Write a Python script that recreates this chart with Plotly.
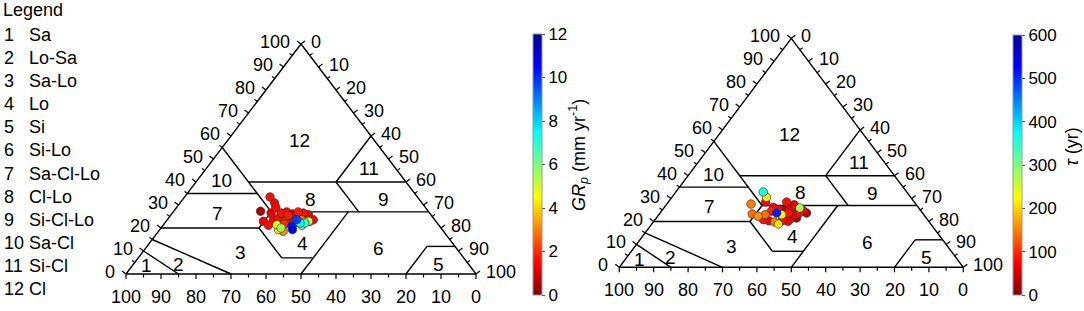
import math
import plotly.graph_objects as go

W, H = 1084, 311
FONT = "Liberation Sans, Arial, sans-serif"

# ---------------- data ----------------
legend_ids = ["1", "2", "3", "4", "5", "6", "7", "8", "9", "10", "11", "12"]
legend_names = ["Sa", "Lo-Sa", "Sa-Lo", "Lo", "Si", "Si-Lo", "Sa-Cl-Lo",
                "Cl-Lo", "Si-Cl-Lo", "Sa-Cl", "Si-Cl", "Cl"]

# class boundary segments as (clay %, silt %) pairs
boundaries = [
    [(10, 0), (0, 15)],
    [(15, 0), (0, 30)],
    [(20, 0), (20, 28)],
    [(20, 28), (7, 41)],
    [(7, 41), (7, 50)],
    [(0, 50), (27, 50)],
    [(20, 28), (27, 28)],
    [(27, 28), (55, 0)],
    [(27, 28), (27, 73)],
    [(35, 0), (35, 20)],
    [(40, 15), (40, 60)],
    [(27, 53), (40, 40)],
    [(40, 40), (60, 40)],
    [(0, 80), (12, 80)],
    [(12, 80), (12, 88)],
]

# class label positions (clay %, silt %)
label_clay = [3.5, 4.2, 9.3, 13.3, 4.2, 11.0, 26.4, 32.6, 32.2, 40.6, 45.9, 58.0]
label_silt = [4.2, 12.9, 28.0, 43.8, 87.1, 66.6, 12.9, 36.3, 57.6, 7.0, 46.6, 20.5]

tick_values = list(range(0, 101, 10))
minor_values = list(range(5, 100, 10))

# left panel samples: clay %, silt %, GRp (mm/yr)
left_clay = [33.5, 30.9, 27.3, 29.0, 26.5, 26.5, 27.0, 26.1, 27.0, 26.5, 25.8, 23.6, 22.9,
             22.9, 21.2, 21.4, 20.0, 18.6, 19.3, 20.7, 19.3, 23.6, 23.6, 22.9, 22.2, 22.2,
             22.9, 23.6, 22.9, 23.6, 22.2, 21.7, 24.7, 24.7, 24.3, 25.5, 21.2, 23.6]
left_silt = [24.4, 27.0, 24.8, 28.3, 28.2, 31.2, 32.4, 34.5, 35.7, 37.4, 39.2, 41.7, 41.1,
             27.8, 30.1, 32.4, 34.3, 35.6, 33.9, 37.0, 37.9, 37.0, 34.6, 34.0, 38.6, 40.0,
             40.7, 38.4, 35.4, 32.7, 37.2, 34.4, 38.8, 36.7, 31.4, 33.6, 39.6, 30.3]
left_grp = [1.6, 1.4, 0.4, 1.5, 1.3, 1.7, 1.5, 1.2, 1.8, 1.6, 1.4, 1.5, 1.9,
            1.3, 1.6, 4.6, 5.4, 3.2, 4.3, 10.3, 10.8, 9.8, 1.5, 1.8, 7.4, 7.0,
            4.8, 2.8, 0.6, 1.4, 1.7, 2.0, 1.5, 1.3, 1.6, 1.8, 6.2, 1.5]

# right panel samples: clay %, silt %, tau (yr)
right_clay = [32.9, 30.6, 27.6, 28.5, 28.5, 27.3, 26.2, 25.9, 24.7, 23.7, 23.0, 23.3, 22.3,
              20.8, 20.3, 19.8, 18.9, 21.5, 23.7, 21.5, 21.5, 23.7, 25.2, 25.2, 25.2, 24.5,
              20.1, 20.3, 26.6, 23.7, 23.0, 23.0]
right_silt = [25.4, 27.5, 24.5, 28.3, 34.4, 37.2, 31.7, 39.5, 41.1, 33.9, 35.7, 27.0, 29.2,
              31.5, 33.3, 35.2, 36.8, 36.9, 37.3, 39.4, 40.8, 40.4, 38.0, 35.6, 33.6, 32.0,
              39.0, 37.2, 36.3, 42.6, 30.9, 39.6]
right_tau = [360, 215, 150, 70, 80, 60, 75, 280, 70, 510, 220, 140, 160,
             80, 65, 150, 210, 75, 85, 70, 25, 80, 70, 30, 75, 90,
             70, 80, 65, 30, 140, 75]

gr_ticks = [0, 2, 4, 6, 8, 10, 12]
tau_ticks = [0, 100, 200, 300, 400, 500, 600]

JET_R = [[0.0, "rgb(128,0,0)"], [0.125, "rgb(255,0,0)"], [0.375, "rgb(255,255,0)"],
         [0.625, "rgb(0,255,255)"], [0.875, "rgb(0,0,255)"], [1.0, "rgb(0,0,140)"]]


def tx(clay, silt):
    return silt + clay / 2.0


fig = go.Figure()
annotations = []

panels = [
    dict(xa="x", ya="y", xdom=(0.0, 0.5), ox=126.0, oy=274.0, sx=3.5, sy=2.3,
         clay=left_clay, silt=left_silt, val=left_grp, cmax=12, ticks=gr_ticks,
         cbx=532.7, cby=164.5, cblen=261,
         title="<i>GR</i><sub><i>p</i></sub> (mm yr<sup>-1</sup>)", tpos=(578, 155)),
    dict(xa="x2", ya="y2", xdom=(0.5, 1.0), ox=619.3, oy=267.3, sx=3.44, sy=2.29,
         clay=right_clay, silt=right_silt, val=right_tau, cmax=600, ticks=tau_ticks,
         cbx=1013.3, cby=165.0, cblen=260,
         title="<i>τ</i> (yr)", tpos=(1072, 147)),
]

layout_axes = {}
for i, p in enumerate(panels):
    xa, ya, sx, sy = p["xa"], p["ya"], p["sx"], p["sy"]
    line = dict(color="black", width=1.4)

    # outline and class boundaries
    xs, ys = [], []
    for c, s in [(0, 0), (0, 100), (100, 0), (0, 0)]:
        xs.append(tx(c, s)); ys.append(c)
    xs.append(None); ys.append(None)
    for (c1, s1), (c2, s2) in boundaries:
        xs += [tx(c1, s1), tx(c2, s2), None]
        ys += [c1, c2, None]
    fig.add_trace(go.Scatter(x=xs, y=ys, mode="lines", line=line, xaxis=xa, yaxis=ya,
                             hoverinfo="skip", showlegend=False))

    # ticks (perpendicular outward, in pixel space)
    nrm = math.hypot(100 * sy, 50 * sx)
    nl = (-100 * sy / nrm, -50 * sx / nrm)
    nr = (100 * sy / nrm, -50 * sx / nrm)
    txs, tys = [], []
    for v in tick_values + minor_values:
        L = 5.0 if v % 10 == 0 else 3.5
        bx, by = tx(v, 0), v
        txs += [bx, bx + nl[0] * L / sx, None]; tys += [by, by - nl[1] * L / sy, None]
        bx, by = tx(100 - v, v), 100 - v
        txs += [bx, bx + nr[0] * L / sx, None]; tys += [by, by - nr[1] * L / sy, None]
        bx, by = 100 - v, 0
        txs += [bx, bx, None]; tys += [by, by - L / sy, None]
    fig.add_trace(go.Scatter(x=txs, y=tys, mode="lines", line=dict(color="black", width=1.2),
                             xaxis=xa, yaxis=ya, hoverinfo="skip", showlegend=False))

    # tick labels
    tf = dict(family=FONT, size=18, color="black")
    for v in tick_values:
        annotations.append(dict(x=tx(v, 0), y=v, xref=xa, yref=ya, text=str(v),
                                showarrow=False, xanchor="right", yanchor="middle",
                                xshift=-9, yshift=2, font=tf))
        annotations.append(dict(x=tx(100 - v, v), y=100 - v, xref=xa, yref=ya, text=str(v),
                                showarrow=False, xanchor="left", yanchor="middle",
                                xshift=8, yshift=2, font=tf))
        annotations.append(dict(x=100 - v, y=0, xref=xa, yref=ya, text=str(v),
                                showarrow=False, xanchor="center", yanchor="middle",
                                yshift=-22.5, font=tf))

    # class labels
    for k, (c, s) in enumerate(zip(label_clay, label_silt)):
        annotations.append(dict(x=tx(c, s), y=c, xref=xa, yref=ya, text=legend_ids[k],
                                showarrow=False, xanchor="center", yanchor="middle",
                                font=dict(family=FONT, size=19, color="black")))

    # samples (drawn with higher values on top)
    order = sorted(range(len(p["val"])), key=lambda j: p["val"][j])
    fig.add_trace(go.Scatter(
        x=[tx(p["clay"][j], p["silt"][j]) for j in order],
        y=[p["clay"][j] for j in order],
        mode="markers", xaxis=xa, yaxis=ya, showlegend=False,
        marker=dict(size=8.5, color=[p["val"][j] for j in order], cmin=0, cmax=p["cmax"],
                    colorscale=JET_R,
                    line=dict(color="#333333", width=0.7), showscale=True,
                    colorbar=dict(x=p["cbx"] / W, xanchor="left", xpad=0,
                                  y=1 - p["cby"] / H, yanchor="middle", ypad=0,
                                  len=p["cblen"], lenmode="pixels", thickness=9,
                                  outlinewidth=1, outlinecolor="#9a9a9a",
                                  tickvals=p["ticks"], ticks="outside", ticklen=3,
                                  tickcolor="#555555",
                                  tickfont=dict(family=FONT, size=17, color="black"))),
    ))

    annotations.append(dict(x=p["tpos"][0] / W, y=1 - p["tpos"][1] / H, xref="paper",
                            yref="paper", text=p["title"], textangle=-90, showarrow=False,
                            xanchor="center", yanchor="middle",
                            font=dict(family=FONT, size=18, color="black")))

    ox, oy = p["ox"], p["oy"]
    xr = [(p["xdom"][0] * W - ox) / sx, (p["xdom"][1] * W - ox) / sx]
    yr = [(oy - H) / sy, oy / sy]
    axkey = "xaxis" if i == 0 else "xaxis2"
    aykey = "yaxis" if i == 0 else "yaxis2"
    layout_axes[axkey] = dict(domain=list(p["xdom"]), range=xr, visible=False,
                              anchor=ya, fixedrange=True)
    layout_axes[aykey] = dict(domain=[0, 1], range=yr, visible=False,
                              anchor=xa, fixedrange=True)

# legend block
lf = dict(family=FONT, size=18, color="black")
annotations.append(dict(x=1 / W, y=1 - 10 / H, xref="paper", yref="paper", text="Legend",
                        showarrow=False, xanchor="left", yanchor="middle", font=lf))
for k in range(12):
    yy = 1 - (35 + k * 23.1) / H
    annotations.append(dict(x=2 / W, y=yy, xref="paper", yref="paper", text=legend_ids[k],
                            showarrow=False, xanchor="left", yanchor="middle", font=lf))
    annotations.append(dict(x=27 / W, y=yy, xref="paper", yref="paper", text=legend_names[k],
                            showarrow=False, xanchor="left", yanchor="middle", font=lf))

fig.update_layout(
    width=W, height=H,
    margin=dict(l=0, r=0, t=0, b=0, autoexpand=False),
    paper_bgcolor="white", plot_bgcolor="white",
    annotations=annotations,
    showlegend=False,
    **layout_axes,
)

fig.write_html("out.html",
               config={"displayModeBar": False},
               post_script="document.body.style.margin='0';"
                           "document.body.style.overflow='hidden';")
